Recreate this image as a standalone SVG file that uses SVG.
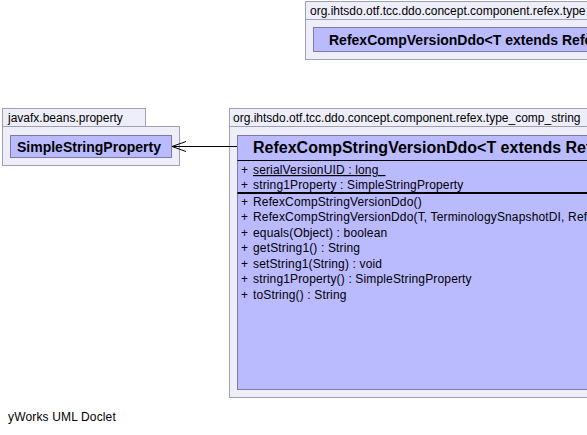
<svg xmlns="http://www.w3.org/2000/svg" width="587" height="435" viewBox="0 0 587 435">
<defs>
<style>
.pkg{fill:#eeeefa;stroke:#a0a0b4;stroke-width:1}
.cls{fill:#babaff;stroke:#7c7ca6;stroke-width:1}
.plbl{font-family:"Liberation Sans",Arial,sans-serif;font-size:12px;fill:#000}
.cname{font-family:"Liberation Sans",Arial,sans-serif;font-size:14px;font-weight:bold;fill:#000}
.title{font-family:"Liberation Sans",Arial,sans-serif;font-size:16px;font-weight:bold;fill:#000}
.mem{font-family:"Liberation Sans",Arial,sans-serif;font-size:12px;letter-spacing:0.15px;fill:#000}
</style>
<marker id="open" markerWidth="20" markerHeight="14" refX="15" refY="7" orient="auto" markerUnits="userSpaceOnUse">
<path d="M1,2 L15,7 L1,12" fill="none" stroke="#000" stroke-width="1"/>
</marker>
</defs>
<rect width="587" height="435" fill="#fff"/>

<g id="pkg-refex">
<rect class="pkg" x="305.5" y="1.5" width="300" height="18"/>
<rect class="pkg" x="305.5" y="19.5" width="300" height="40"/>
<text class="plbl" x="310" y="15">org.ihtsdo.otf.tcc.ddo.concept.component.refex.type</text>
</g>
<g id="RefexCompVersionDdo">
<rect class="cls" x="313.5" y="27.5" width="300" height="24"/>
<text class="cname" x="329" y="44.5">RefexCompVersionDdo&lt;T extends RefexCompVersionDdo&gt;</text>
</g>

<g id="pkg-javafx">
<rect class="pkg" x="2.5" y="108.5" width="143" height="18"/>
<rect class="pkg" x="2.5" y="126.5" width="177" height="39"/>
<text class="plbl" x="8" y="122">javafx.beans.property</text>
</g>
<g id="SimpleStringProperty">
<rect class="cls" x="10.5" y="135.5" width="161" height="22"/>
<text class="cname" x="17" y="151.5">SimpleStringProperty</text>
</g>

<g id="pkg-type_comp_string">
<rect class="pkg" x="229.5" y="108.5" width="370" height="18"/>
<rect class="pkg" x="229.5" y="126.5" width="370" height="271"/>
<text class="plbl" x="233" y="122">org.ihtsdo.otf.tcc.ddo.concept.component.refex.type_comp_string</text>
</g>
<g id="RefexCompStringVersionDdo">
<rect class="cls" x="237.5" y="135.5" width="370" height="254"/>
<text class="title" x="253" y="153">RefexCompStringVersionDdo&lt;T extends RefexCompVersionDdo&gt;</text>
<line x1="237.5" y1="160.5" x2="600" y2="160.5" stroke="#000" stroke-width="1"/>
<text class="mem" x="241" y="174">+</text>
<text class="mem" x="253" y="174" text-decoration="underline" xml:space="preserve">serialVersionUID : long  </text>
<text class="mem" x="241" y="189">+</text>
<text class="mem" x="253" y="189">string1Property : SimpleStringProperty</text>
<line x1="237.5" y1="193" x2="600" y2="193" stroke="#000" stroke-width="2"/>
<text class="mem" x="241" y="206">+</text>
<text class="mem" x="253" y="206">RefexCompStringVersionDdo()</text>
<text class="mem" x="241" y="221">+</text>
<text class="mem" x="253" y="221">RefexCompStringVersionDdo(T, TerminologySnapshotDI, RefexStringVersionBI)</text>
<text class="mem" x="241" y="237">+</text>
<text class="mem" x="253" y="237">equals(Object) : boolean</text>
<text class="mem" x="241" y="252">+</text>
<text class="mem" x="253" y="252">getString1() : String</text>
<text class="mem" x="241" y="268">+</text>
<text class="mem" x="253" y="268">setString1(String) : void</text>
<text class="mem" x="241" y="283">+</text>
<text class="mem" x="253" y="283">string1Property() : SimpleStringProperty</text>
<text class="mem" x="241" y="299">+</text>
<text class="mem" x="253" y="299">toString() : String</text>
</g>

<g id="connectors">
<line x1="237" y1="146.5" x2="172" y2="146.5" stroke="#000" stroke-width="1" marker-end="url(#open)"/>
</g>

<text class="mem" x="8" y="421">yWorks UML Doclet</text>
</svg>
